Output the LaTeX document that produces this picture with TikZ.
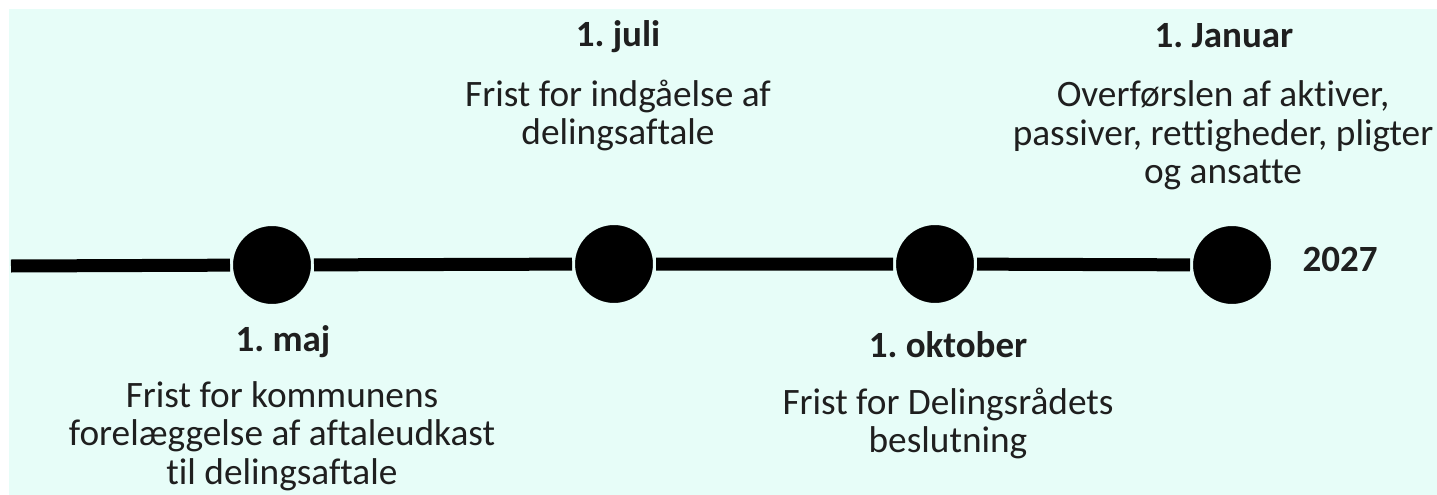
\documentclass[tikz,border=0pt]{standalone}
\usepackage{fontspec}
\setmainfont[Ligatures=NoCommon]{Carlito}
\definecolor{bg}{HTML}{E7FDF8}
\definecolor{ink}{HTML}{1F1F1F}
\tikzset{
  dot/.style={circle, fill=black, draw=bg, line width=3pt, minimum size=81pt, inner sep=0pt},
  title/.style={anchor=base, font=\fontsize{37}{38}\selectfont\bfseries, text=ink, inner sep=0pt},
  desc/.style={anchor=north, align=center, font=\fontsize{37.3}{38.5}\selectfont, text=ink, inner sep=0pt},
}
\frenchspacing
\begin{document}
\begin{tikzpicture}[x=1pt, y=-1pt]
\useasboundingbox (0,0) rectangle (1437,495);
\fill[white] (0,0) rectangle (1437,495);
\fill[bg] (9,9) rectangle (1437,495);
\coordinate (s) at (11,266);
\node[dot] (c1) at (272,265) {};
\node[dot] (c2) at (614,264) {};
\node[dot] (c3) at (935,264) {};
\node[dot] (c4) at (1232,265) {};
\draw[line width=13pt] (s) -- (c1) -- (c2) -- (c3) -- (c4);
\node[title] (t2) at (618,47) {1. juli};
\node[desc] (d2) at (618,79.5) {Frist for indgåelse af\\delingsaftale};
\node[title] (t4) at (1224,48) {1. Januar};
\node[desc] (d4) at (1223,80.5) {Overførslen af aktiver,\\passiver, rettigheder, pligter\\og ansatte};
\node[title] (y) at (1340,271) {2027};
\node[title] (t1) at (283,351) {1. maj};
\node[desc] (d1) at (282,381) {Frist for kommunens\\forelæggelse af aftaleudkast\\til delingsaftale};
\node[title] (t3) at (948,357) {1. oktober};
\node[desc] (d3) at (948,387.5) {Frist for Delingsrådets\\beslutning};
\end{tikzpicture}
\end{document}
